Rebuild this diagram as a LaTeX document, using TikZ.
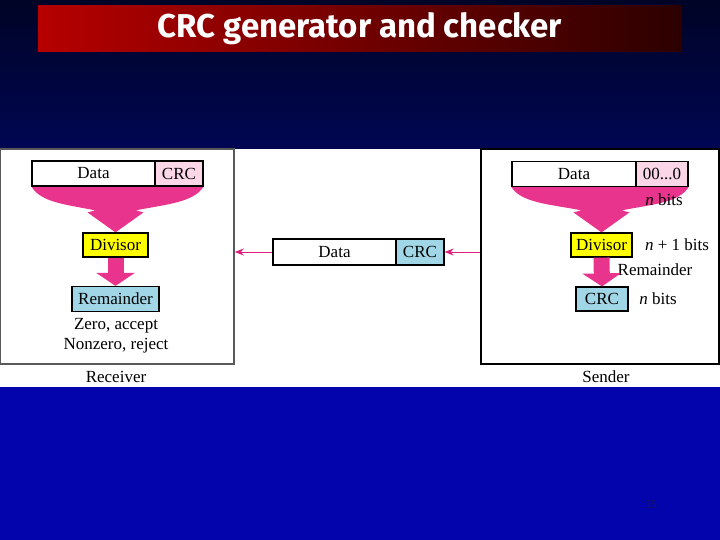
\documentclass[tikz,border=0pt]{standalone}
\usepackage{fontspec}
\setmainfont{Liberation Serif}
\newfontfamily\titlefont{Fira Sans}
\usetikzlibrary{arrows.meta,calc,backgrounds}

\definecolor{funnelpink}{RGB}{232,52,140}
\definecolor{wirepink}{RGB}{222,30,120}
\definecolor{cellpink}{RGB}{250,214,230}
\definecolor{divyellow}{RGB}{255,255,0}
\definecolor{remblue}{RGB}{160,214,230}
\definecolor{navytop}{RGB}{0,4,38}
\definecolor{navymid}{RGB}{0,6,82}
\definecolor{slideblue}{RGB}{4,4,172}
\definecolor{pagenum}{RGB}{20,20,90}

\newcommand{\funnel}[3]{%
  \fill[funnelpink] (#1) .. controls ($(#1)+(10,16)$) and ($(#3)+(-50,-28)$) .. ($(#3)+(-20,-22)$)
    -- ($(#3)+(-28,-20)$) -- (#3) -- ($(#3)+(28,-20)$) -- ($(#3)+(20,-22)$)
    .. controls ($(#3)+(50,-28)$) and ($(#2)+(-10,16)$) .. (#2) -- cycle;}

\begin{document}
\begin{tikzpicture}[
  x=1pt, y=-1pt,
  cell/.style={draw, line width=1.2pt, inner sep=0pt, minimum height=25, font=\fontsize{17}{20}\selectfont},
  frame/.style={draw, line width=1.5pt, inner sep=0pt},
  txt/.style={inner sep=0pt, align=center, font=\fontsize{17}{20}\selectfont},
  titlebar/.style={inner sep=0pt, minimum width=644, minimum height=46, text=white,
    left color={rgb,255:red,182;green,0;blue,0}, right color={rgb,255:red,44;green,0;blue,0},
    font=\titlefont\bfseries\fontsize{33}{38}\selectfont},
  fatarrow/.style={draw=funnelpink, line width=16pt, -{Triangle[width=38pt,length=13pt]}},
  wire/.style={draw=wirepink, line width=1pt, -{Stealth[length=9pt,width=7pt]}}
]
\useasboundingbox (0,0) rectangle (720,540);

\begin{scope}[on background layer]
\shade[top color=navytop, bottom color=navymid] (0,0) rectangle (720,149);
\fill[white] (0,149) rectangle (720,387);
\fill[slideblue] (0,387) rectangle (720,540);
\end{scope}

\node[titlebar] (title) at (360,29) {CRC generator and checker};

\node[frame, draw=gray!70!black, minimum width=234, minimum height=215] (rbox) at (117,256.5) {};
\node[frame, minimum width=238, minimum height=215] (sbox) at (600,256.5) {};

\node[cell, minimum width=123, fill=white] (ldata) at (93.5,173.5) {Data};
\node[cell, minimum width=48, fill=cellpink] (lcrc) at (179,173.5) {CRC};
\node[cell, minimum width=65, minimum height=24, fill=divyellow] (ldiv) at (115.5,245) {Divisor};
\node[cell, minimum width=87, fill=remblue] (lrem) at (115.5,299) {Remainder};
\node[txt] (verdict) at (116,336) {Zero, accept\\Nonzero, reject};
\node[txt] (rlabel) at (116,377) {Receiver};

\node[cell, minimum width=123, minimum height=26, fill=white] (mdata) at (334.5,252) {Data};
\node[cell, minimum width=48, minimum height=26, fill=remblue] (mcrc) at (420,252) {CRC};

\node[cell, minimum width=124, fill=white] (sdata) at (574,174) {Data};
\node[cell, minimum width=52, fill=cellpink] (szero) at (662,174) {00...0};
\node[txt] (nbits) at (664,200) {\textit{n} bits};
\node[cell, minimum width=61, minimum height=24, fill=divyellow] (sdiv) at (601.5,245) {Divisor};
\node[txt] (divbits) at (677,245) {\textit{n} + 1 bits};
\node[txt] (remlabel) at (655,270) {Remainder};
\node[cell, minimum width=52, minimum height=24, fill=remblue] (scrc) at (602,299) {CRC};
\node[txt] (crcbits) at (658,299) {\textit{n} bits};
\node[txt] (slabel) at (606,377) {Sender};

\node[text=pagenum, font=\fontsize{12}{14}\selectfont] (page) at (651,505) {35};

\begin{scope}[on background layer]
\funnel{ldata.south west}{lcrc.south east}{ldiv.north}
\funnel{sdata.south west}{szero.south east}{sdiv.north}
\end{scope}

\draw[fatarrow] (ldiv.south) -- (lrem.north);
\draw[fatarrow] (sdiv.south) -- (scrc.north);

\draw[wire] (mdata.west) -- (mdata.west -| rbox.east);
\draw[wire] (mcrc.east -| sbox.west) -- (mcrc.east);

\end{tikzpicture}
\end{document}
